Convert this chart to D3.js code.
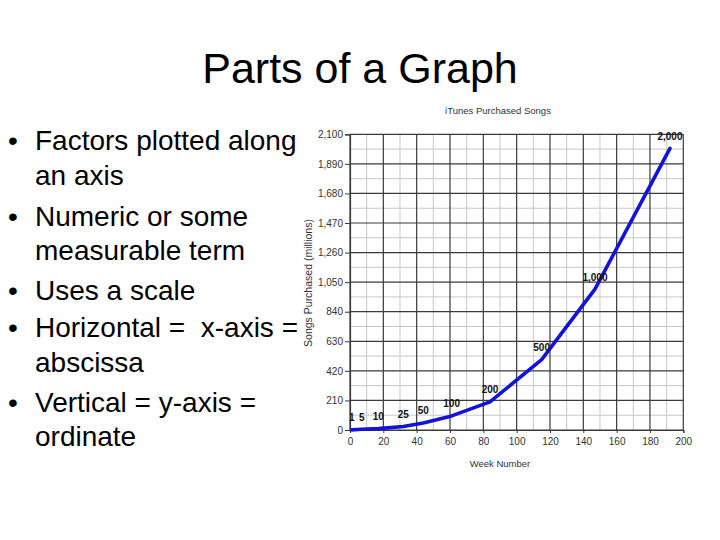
<!DOCTYPE html>
<html>
<head>
<meta charset="utf-8">
<script src="https://cdn.jsdelivr.net/npm/d3@7"></script>
<style>
  html, body { margin: 0; padding: 0; background: #fff; }
  svg { display: block; }
</style>
</head>
<body>
<svg id="chart" width="720" height="540"></svg>
<script>
// ---- data ----
const slideTitle = "Parts of a Graph";
const chartTitle = "iTunes Purchased Songs";
const xTitle = "Week Number";
const yTitle = "Songs Purchased (millions)";
const weeks = [1, 7, 17, 32, 44, 61, 84, 115, 147, 192];
const songs = [1, 5, 10, 25, 50, 100, 200, 500, 1000, 2000];
const pointLabels = ["1", "5", "10", "25", "50", "100", "200", "500", "1,000", "2,000"];
const xTicks = [0, 20, 40, 60, 80, 100, 120, 140, 160, 180, 200];
const yTicks = [0, 210, 420, 630, 840, 1050, 1260, 1470, 1680, 1890, 2100];
const xMinor = [10, 30, 50, 70, 90, 110, 130, 150, 170, 190];
const yMinor = [105, 315, 525, 735, 945, 1155, 1365, 1575, 1785, 1995];
const bulletLines = [
  ["Factors plotted along", "an axis"],
  ["Numeric or some", "measurable term"],
  ["Uses a scale"],
  ["Horizontal =  x-axis =", "abscissa"],
  ["Vertical = y-axis =", "ordinate"]
];
const bulletBaselines = [[150, 184.5], [225.5, 259.5], [299.5], [337, 371.5], [411.5, 446]];

// ---- drawing ----
const svg = d3.select("#chart");
const font = "'Liberation Sans', Arial, Helvetica, sans-serif";

svg.append("text")
  .attr("x", 360).attr("y", 83)
  .attr("text-anchor", "middle")
  .style("font-family", font).style("font-size", "43px").style("fill", "#000")
  .text(slideTitle);

const bl = svg.append("g").style("font-family", font).style("font-size", "28px").style("fill", "#000");
bulletLines.forEach((lines, i) => {
  bl.append("text").attr("x", 8).attr("y", bulletBaselines[i][0]).text("\u2022");
  lines.forEach((t, j) => {
    bl.append("text").attr("x", 35).attr("y", bulletBaselines[i][j])
      .style("white-space", "pre").attr("xml:space", "preserve").text(t);
  });
});

const x = d3.scaleLinear().domain([0, 200]).range([350, 683.3]);
const y = d3.scaleLinear().domain([0, 2100]).range([430, 134.3]);

const g = svg.append("g");

// minor grid
g.append("g").selectAll("line").data(xMinor).join("line")
  .attr("x1", d => x(d)).attr("x2", d => x(d)).attr("y1", y(0)).attr("y2", y(2100))
  .attr("stroke", "#c8c8c8").attr("stroke-width", 1);
g.append("g").selectAll("line").data(yMinor).join("line")
  .attr("y1", d => y(d)).attr("y2", d => y(d)).attr("x1", x(0)).attr("x2", x(200))
  .attr("stroke", "#c8c8c8").attr("stroke-width", 1);
// major grid
g.append("g").selectAll("line").data(xTicks).join("line")
  .attr("x1", d => x(d)).attr("x2", d => x(d)).attr("y1", y(0)).attr("y2", y(2100))
  .attr("stroke", "#3a3a3a").attr("stroke-width", 1.2);
g.append("g").selectAll("line").data(yTicks).join("line")
  .attr("y1", d => y(d)).attr("y2", d => y(d)).attr("x1", x(0)).attr("x2", x(200))
  .attr("stroke", "#3a3a3a").attr("stroke-width", 1.2);

// axes
const fmt = d3.format(",");
const yAxis = g.append("g").attr("transform", `translate(${x(0)},0)`)
  .call(d3.axisLeft(y).tickValues(yTicks).tickFormat(fmt).tickSize(5).tickPadding(2));
const xAxis = g.append("g").attr("transform", `translate(0,${y(0)})`)
  .call(d3.axisBottom(x).tickValues(xTicks).tickFormat(fmt).tickSize(3).tickPadding(5));
[yAxis, xAxis].forEach(a => {
  a.select(".domain").attr("stroke", "#3a3a3a").attr("stroke-width", 1.2);
  a.selectAll(".tick line").attr("stroke", "#3a3a3a");
  a.selectAll("text").style("font-family", font).style("font-size", "10px").style("fill", "#333");
});

// titles
svg.append("text").attr("x", 498).attr("y", 114).attr("text-anchor", "middle")
  .style("font-family", font).style("font-size", "9.5px").style("fill", "#333").text(chartTitle);
svg.append("text").attr("x", 500).attr("y", 467).attr("text-anchor", "middle")
  .style("font-family", font).style("font-size", "9.5px").style("fill", "#333").text(xTitle);
svg.append("text").attr("transform", "translate(312,283) rotate(-90)").attr("text-anchor", "middle")
  .style("font-family", font).style("font-size", "10.5px").style("fill", "#333").text(yTitle);

// line
const pts = weeks.map((w, i) => [w, songs[i]]);
g.append("path").datum(pts)
  .attr("d", d3.line().x(d => x(d[0])).y(d => y(d[1])))
  .attr("fill", "none").attr("stroke", "#1212dc").attr("stroke-width", 3.6)
  .attr("stroke-linejoin", "round").attr("stroke-linecap", "round");

// point labels
g.append("g").selectAll("text").data(pts).join("text")
  .attr("x", d => x(d[0])).attr("y", d => y(d[1]) - 8.5)
  .attr("text-anchor", "middle")
  .style("font-family", font).style("font-size", "10px").style("font-weight", "bold").style("fill", "#111")
  .text((d, i) => pointLabels[i]);
</script>
</body>
</html>
